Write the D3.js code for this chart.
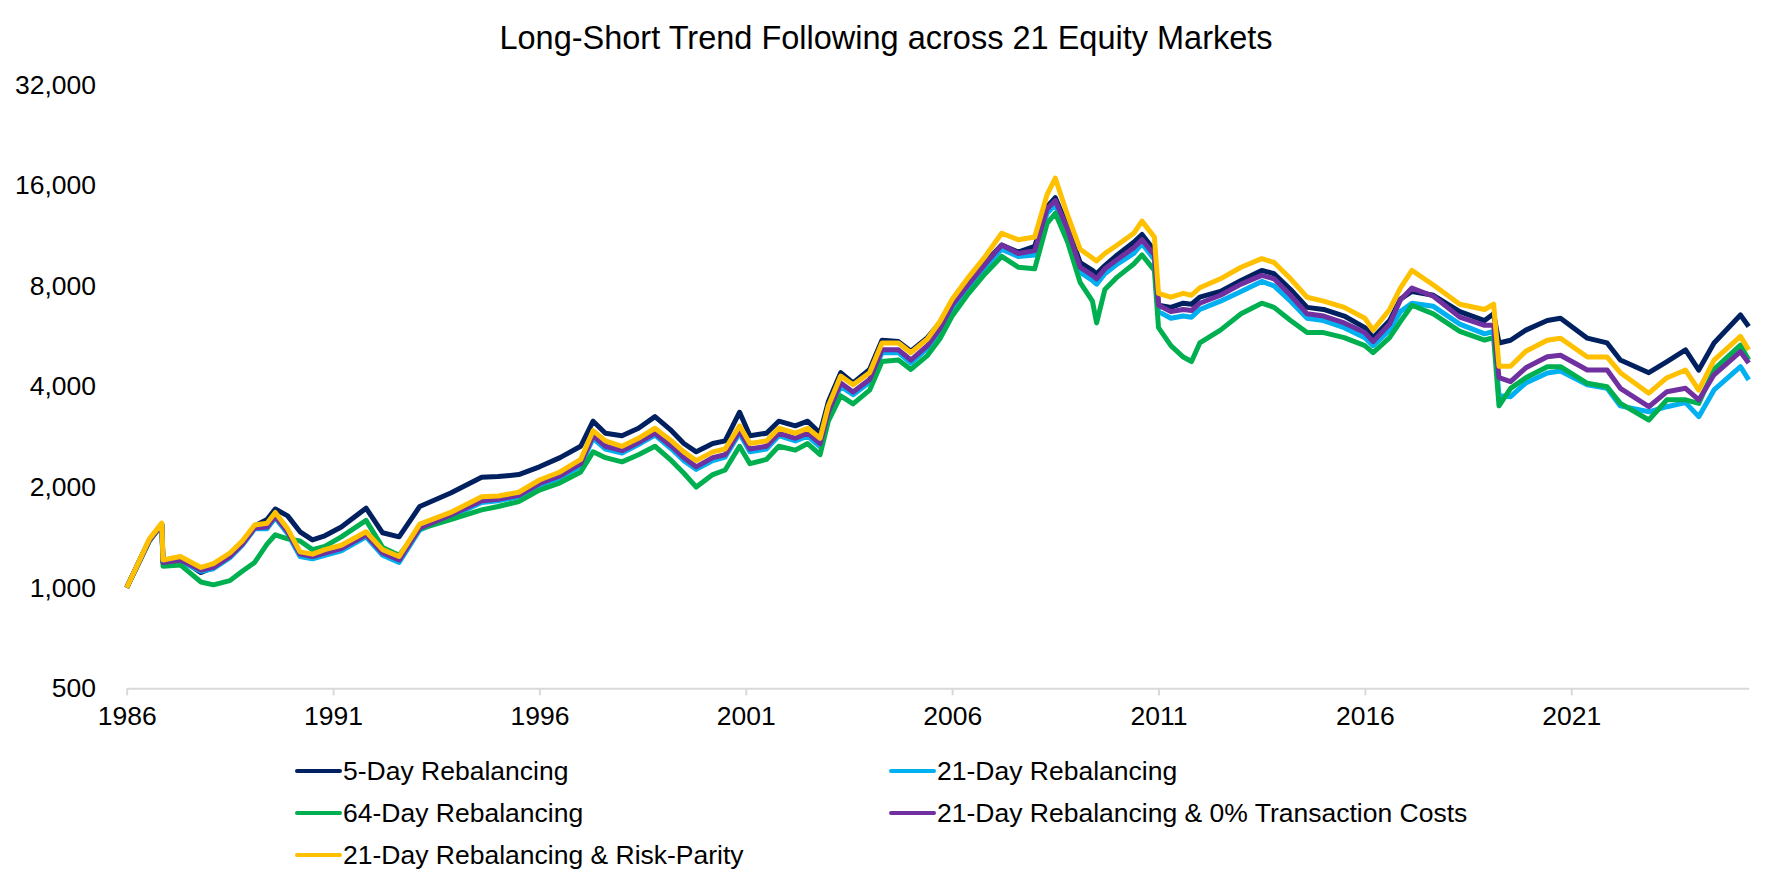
<!DOCTYPE html>
<html lang="en">
<meta charset="utf-8" />
<style>
  body { margin: 0; background: #fff; }
  svg { font-family: "Liberation Sans", Arial, sans-serif; }
</style>
<svg width="1772" height="886"></svg>
<script src="https://d3js.org/d3.v7.min.js"></script>
<script>
// dates in axis years, shared by all series
var dates = [1986.0, 1986.3, 1986.55, 1986.85, 1986.88, 1987.3, 1987.8, 1988.1, 1988.5, 1988.8,
  1989.1, 1989.4, 1989.6, 1989.9, 1990.2, 1990.5, 1990.8, 1991.2, 1991.8, 1992.2,
  1992.6, 1993.1, 1993.85, 1994.6, 1995.0, 1995.5, 1996.0, 1996.5, 1997.0, 1997.3,
  1997.6, 1998.0, 1998.4, 1998.8, 1999.2, 1999.5, 1999.8, 2000.2, 2000.5, 2000.85,
  2001.1, 2001.5, 2001.8, 2002.2, 2002.5, 2002.8, 2003.0, 2003.3, 2003.6, 2004.0,
  2004.3, 2004.7, 2005.0, 2005.4, 2005.7, 2006.0, 2006.4, 2006.8, 2007.2, 2007.6,
  2008.0, 2008.3, 2008.5, 2008.8, 2009.1, 2009.4, 2009.5, 2009.7, 2010.0, 2010.4,
  2010.6, 2010.9, 2011.0, 2011.3, 2011.6, 2011.8, 2012.0, 2012.5, 2013.0, 2013.5,
  2013.8, 2014.2, 2014.6, 2015.0, 2015.5, 2016.0, 2016.2, 2016.6, 2016.86, 2017.14,
  2017.66, 2018.3, 2018.9, 2019.12, 2019.25, 2019.53, 2019.9, 2020.42, 2020.74, 2021.39,
  2021.87, 2022.19, 2022.88, 2023.32, 2023.77, 2024.09, 2024.46, 2025.1, 2025.3];

var reb5 = [1000, 1200, 1390, 1550, 1200, 1220, 1110, 1150, 1250, 1370,
  1530, 1600, 1720, 1640, 1470, 1390, 1430, 1520, 1730, 1460,
  1420, 1750, 1920, 2140, 2150, 2180, 2300, 2450, 2650, 3150,
  2900, 2850, 3000, 3250, 2950, 2700, 2550, 2700, 2750, 3350,
  2850, 2900, 3150, 3050, 3150, 2900, 3600, 4400, 4100, 4500,
  5500, 5450, 5100, 5600, 6200, 7200, 8300, 9400, 10600, 10100,
  10500, 13800, 14700, 12000, 9400, 8900, 8700, 9200, 9900, 10800,
  11400, 10200, 7000, 6900, 7100, 7050, 7400, 7700, 8300, 8900,
  8700, 7800, 6900, 6800, 6500, 6000, 5600, 6300, 7300, 7700,
  7500, 6700, 6300, 6600, 5400, 5500, 5900, 6300, 6400, 5580,
  5400, 4800, 4400, 4750, 5150, 4480, 5400, 6550, 6050];

var reb21 = [1000, 1195, 1385, 1545, 1185, 1200, 1120, 1140, 1230, 1340,
  1500, 1500, 1620, 1450, 1240, 1220, 1250, 1290, 1420, 1250,
  1190, 1490, 1630, 1800, 1820, 1870, 2020, 2130, 2310, 2800,
  2600, 2530, 2680, 2860, 2600, 2400, 2260, 2400, 2460, 2900,
  2550, 2600, 2850, 2750, 2840, 2640, 3300, 4000, 3780, 4120,
  5050, 5050, 4700, 5200, 5800, 6850, 7950, 9100, 10300, 9800,
  9900, 13200, 14000, 11400, 8800, 8300, 8100, 8700, 9300, 10000,
  10700, 9600, 6700, 6400, 6500, 6450, 6800, 7200, 7700, 8250,
  8000, 7200, 6400, 6300, 6000, 5600, 5300, 5900, 6700, 7100,
  6950, 6150, 5750, 5850, 3750, 3730, 4100, 4390, 4450, 4050,
  3950, 3500, 3360, 3480, 3580, 3250, 3905, 4585, 4185];

var reb64 = [1000, 1190, 1380, 1540, 1160, 1170, 1040, 1020, 1050, 1120,
  1190, 1350, 1440, 1400, 1380, 1300, 1330, 1420, 1590, 1320,
  1250, 1500, 1600, 1710, 1750, 1810, 1960, 2060, 2220, 2550,
  2450, 2380, 2500, 2650, 2400, 2200, 2000, 2180, 2250, 2650,
  2350, 2420, 2650, 2580, 2700, 2500, 3150, 3750, 3550, 3900,
  4750, 4800, 4500, 4950, 5550, 6500, 7600, 8700, 9800, 9100,
  9000, 12300, 13200, 10800, 8200, 7200, 6200, 7800, 8500, 9300,
  9900, 8900, 6000, 5300, 4900, 4750, 5400, 5900, 6600, 7100,
  6900, 6300, 5800, 5800, 5600, 5300, 5050, 5600, 6250, 7000,
  6600, 5850, 5510, 5600, 3500, 3950, 4250, 4585, 4585, 4090,
  3995, 3560, 3176, 3650, 3650, 3560, 4500, 5320, 4800];

var reb21NoCost = [1000, 1195, 1385, 1545, 1190, 1210, 1130, 1150, 1240, 1350,
  1510, 1520, 1640, 1470, 1260, 1240, 1270, 1310, 1440, 1270,
  1210, 1510, 1650, 1820, 1840, 1890, 2050, 2160, 2350, 2850,
  2650, 2570, 2720, 2900, 2650, 2450, 2300, 2450, 2500, 2950,
  2600, 2650, 2900, 2800, 2900, 2700, 3350, 4100, 3850, 4200,
  5150, 5150, 4800, 5300, 5950, 7000, 8100, 9300, 10600, 10000,
  10200, 13600, 14400, 11800, 9100, 8600, 8400, 9000, 9600, 10400,
  11000, 9900, 7000, 6700, 6800, 6750, 7100, 7500, 8100, 8600,
  8400, 7500, 6600, 6500, 6200, 5800, 5450, 6150, 7260, 7880,
  7450, 6450, 6100, 6100, 4250, 4135, 4550, 4910, 4960, 4480,
  4480, 3950, 3480, 3860, 3950, 3645, 4335, 5085, 4705];

var reb21RiskParity = [1000, 1200, 1400, 1560, 1210, 1240, 1150, 1180, 1270, 1380,
  1540, 1560, 1680, 1500, 1280, 1260, 1300, 1340, 1470, 1300,
  1240, 1550, 1680, 1870, 1880, 1930, 2100, 2220, 2420, 2950,
  2750, 2650, 2800, 3000, 2750, 2550, 2400, 2550, 2600, 3050,
  2700, 2750, 3000, 2900, 3000, 2800, 3500, 4300, 4050, 4400,
  5400, 5400, 5050, 5550, 6250, 7300, 8500, 9800, 11500, 11000,
  11200, 15000, 16800, 13000, 10300, 9700, 9500, 10000, 10600, 11500,
  12500, 11200, 7600, 7400, 7600, 7500, 7900, 8400, 9100, 9650,
  9400, 8400, 7400, 7200, 6900, 6400, 5900, 6800, 7880, 8900,
  8050, 7050, 6800, 7050, 4600, 4600, 5100, 5500, 5580, 4900,
  4900, 4400, 3820, 4250, 4480, 3900, 4800, 5650, 5150];

var seriesNames = ["5-Day Rebalancing", "21-Day Rebalancing", "64-Day Rebalancing",
  "21-Day Rebalancing & 0% Transaction Costs", "21-Day Rebalancing & Risk-Parity"];
var seriesValues = [reb5, reb21, reb64, reb21NoCost, reb21RiskParity];
var seriesColors = ["#002060", "#00B0F0", "#00B050", "#7030A0", "#FFC000"];

var yTicks = [500, 1000, 2000, 4000, 8000, 16000, 32000];
var xTicks = [1986, 1991, 1996, 2001, 2006, 2011, 2016, 2021];

var svg = d3.select("svg");

var x = d3.scaleLinear()
    .domain([1986, 2025.3])
    .range([126.7, 1748.7]);

var y = d3.scaleLog()
    .base(2)
    .domain([500, 32000])
    .range([688.3, 84.7]);

// titulek
svg.append("text")
    .attr("x", 886)
    .attr("y", 49)
    .attr("text-anchor", "middle")
    .attr("font-size", "32.5px")
    .attr("fill", "#000")
    .text("Long-Short Trend Following across 21 Equity Markets");

// osa y - jen popisky
var gy = svg.append("g")
    .attr("transform", "translate(96,0)")
    .call(d3.axisLeft(y)
      .tickValues(yTicks)
      .tickFormat(d3.format(","))
      .tickSize(0)
      .tickPadding(0));
gy.select(".domain").remove();
gy.selectAll("text")
    .attr("font-size", "26.5px")
    .attr("font-family", null)
    .attr("fill", "#000");

// osa x
var gx = svg.append("g")
    .attr("transform", "translate(0,688.3)")
    .call(d3.axisBottom(x)
      .tickValues(xTicks)
      .tickFormat(d3.format("d"))
      .tickSize(7)
      .tickSizeOuter(0)
      .tickPadding(11));
gx.select(".domain").attr("stroke", "#D9D9D9").attr("stroke-width", 2);
gx.selectAll(".tick line").attr("stroke", "#D9D9D9").attr("stroke-width", 2);
gx.selectAll("text")
    .attr("font-size", "26.5px")
    .attr("fill", "#000");
svg.selectAll(".tick text").attr("font-family", "Liberation Sans, Arial, sans-serif");
gx.attr("font-family", null);
gy.attr("font-family", null);

// cary
var line = d3.line()
    .x(function(d, i) { return x(dates[i]); })
    .y(function(d) { return y(d); });

svg.append("g")
  .selectAll("path")
  .data(seriesValues)
  .enter().append("path")
    .attr("fill", "none")
    .attr("stroke", function(d, i) { return seriesColors[i]; })
    .attr("stroke-width", 5)
    .attr("stroke-linejoin", "round")
    .attr("d", line);

// legenda
var legendPos = [
  [297, 771], [891, 771],
  [297, 813], [891, 813],
  [297, 855]
];

var lg = svg.append("g")
  .selectAll("g")
  .data(seriesNames)
  .enter().append("g")
    .attr("transform", function(d, i) { return "translate(" + legendPos[i][0] + "," + legendPos[i][1] + ")"; });

lg.append("line")
    .attr("x1", 0)
    .attr("x2", 43)
    .attr("stroke", function(d, i) { return seriesColors[i]; })
    .attr("stroke-width", 4)
    .attr("stroke-linecap", "round");

lg.append("text")
    .attr("x", 46)
    .attr("dy", "0.35em")
    .attr("font-size", "26.5px")
    .attr("fill", "#000")
    .text(function(d) { return d; });
</script>
</html>
